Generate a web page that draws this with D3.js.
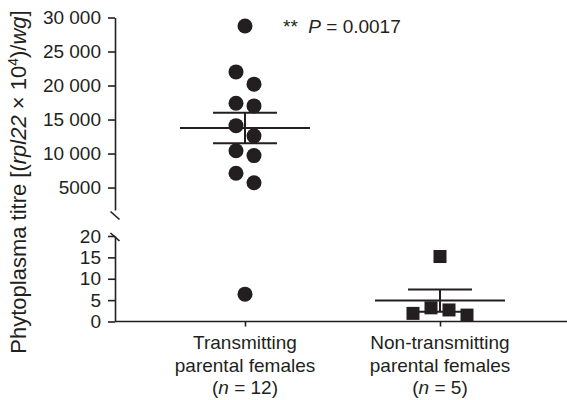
<!DOCTYPE html>
<html>
<head>
<meta charset="utf-8">
<script src="https://cdn.jsdelivr.net/npm/d3@7"></script>
<style>
  html, body { margin: 0; padding: 0; background: #fff; }
  svg { display: block; }
  text { font-family: "Liberation Sans", Arial, Helvetica, sans-serif; fill: #231f20; }
</style>
</head>
<body>
<svg id="chart" width="567" height="400"></svg>
<script>
// ---------------- data ----------------
const categories = ["Transmitting parental females", "Non-transmitting parental females"];
const categoryLines = [["Transmitting", "parental females"], ["Non-transmitting", "parental females"]];
const groupN = [12, 5];
const transmitting = [28750, 22000, 20200, 17400, 17000, 14100, 12600, 10400, 9700, 7100, 5700, 6.4];
const nonTransmitting = [15.2, 3.2, 2.7, 1.9, 1.5];
const groupMeans = [13750, 4.9];
const groupSems = [2250, 2.6];
const upperTicks = [5000, 10000, 15000, 20000, 25000, 30000];
const upperTickLabels = ["5000", "10 000", "15 000", "20 000", "25 000", "30 000"];
const lowerTicks = [0, 5, 10, 15, 20];
const lowerTickLabels = ["0", "5", "10", "15", "20"];
const sigStars = "**";
const pValueText = "P = 0.0017";

// ---------------- layout ----------------
const ink = "#231f20";
const W = 567, H = 400;
const axisX = 115;
const svg = d3.select("#chart");

const yUpper = d3.scaleLinear().domain([1700, 30000]).range([210, 17.5]);
const yLower = d3.scaleLinear().domain([0, 20]).range([321.5, 236]);
const yOf = v => v > 20 ? yUpper(v) : yLower(v);
const x = d3.scalePoint().domain(categories).range([245, 440]);

const upperAxis = d3.axisLeft(yUpper)
  .tickValues(upperTicks)
  .tickFormat((d, i) => upperTickLabels[i])
  .tickSize(7).tickSizeOuter(0).tickPadding(7);
const lowerAxis = d3.axisLeft(yLower)
  .tickValues(lowerTicks)
  .tickFormat((d, i) => lowerTickLabels[i])
  .tickSize(7).tickSizeOuter(0).tickPadding(7);

function styleAxis(g) {
  g.attr("font-size", null).attr("font-family", null);
  g.selectAll("path, line").attr("stroke", ink).attr("stroke-width", 1.6);
  g.selectAll("text").style("font-size", "19px").attr("fill", ink);
}
svg.append("g").attr("transform", `translate(${axisX},0)`).call(upperAxis).call(styleAxis);
svg.append("g").attr("transform", `translate(${axisX},0)`).call(lowerAxis).call(styleAxis);

// axis break marks
const brk = svg.append("g").attr("stroke", ink).attr("stroke-width", 1.6);
brk.append("line")
  .attr("x1", axisX - 4.5).attr("y1", yUpper(1700) + 1.5)
  .attr("x2", axisX + 4.5).attr("y2", yUpper(1700) + 9.5);
brk.append("line")
  .attr("x1", axisX - 4.5).attr("y1", yLower(20) - 3)
  .attr("x2", axisX + 4.5).attr("y2", yLower(20) + 5);

// x axis
svg.append("line")
  .attr("x1", axisX).attr("x2", W)
  .attr("y1", yLower(0)).attr("y2", yLower(0))
  .attr("stroke", ink).attr("stroke-width", 1.6);
const xAxis = d3.axisBottom(x).tickSize(5).tickFormat("");
const xg = svg.append("g").attr("transform", `translate(0,${yLower(0)})`).call(xAxis);
xg.select(".domain").remove();
xg.selectAll("line").attr("stroke", ink).attr("stroke-width", 1.6);

// category labels
categories.forEach((c, i) => {
  const t = svg.append("text")
    .attr("x", x(c)).attr("y", 349)
    .attr("text-anchor", "middle").style("font-size", "19px");
  categoryLines[i].forEach((line, j) => {
    t.append("tspan").attr("x", x(c)).attr("dy", j === 0 ? 0 : 22.5).text(line);
  });
  t.append("tspan").attr("x", x(c)).attr("dy", 22.5).text("(");
  t.append("tspan").attr("font-style", "italic").text("n");
  t.append("tspan").text(" = " + groupN[i] + ")");
});

// y axis title
const yl = svg.append("text")
  .attr("transform", "translate(26,182) rotate(-90)")
  .attr("text-anchor", "middle").style("font-size", "22px");
yl.append("tspan").text("Phytoplasma titre [(");
yl.append("tspan").attr("font-style", "italic").text("rpl22");
yl.append("tspan").text(" \u00d7 10");
yl.append("tspan").style("font-size", "14px").attr("dy", -8.5).text("4");
yl.append("tspan").attr("dy", 8.5).text(")/");
yl.append("tspan").attr("font-style", "italic").text("wg");
yl.append("tspan").text("]");

// significance annotation
const pt = svg.append("text").attr("x", 283).attr("y", 33).style("font-size", "19px");
pt.append("tspan").text(sigStars);
const pParts = pValueText.split(" ");
pt.append("tspan").attr("dx", 10.5).attr("font-style", "italic").text(pParts[0]);
pt.append("tspan").text(" " + pParts.slice(1).join(" "));

// ---------------- mean ± SEM ----------------
const eb = svg.append("g").attr("stroke", ink).attr("stroke-width", 2);
categories.forEach((c, i) => {
  const cx = x(c), m = groupMeans[i], s = groupSems[i];
  eb.append("line").attr("x1", cx - 65).attr("x2", cx + 65).attr("y1", yOf(m)).attr("y2", yOf(m));
  eb.append("line").attr("x1", cx).attr("x2", cx).attr("y1", yOf(m + s)).attr("y2", yOf(m - s));
  eb.append("line").attr("x1", cx - 32).attr("x2", cx + 32).attr("y1", yOf(m + s)).attr("y2", yOf(m + s));
  eb.append("line").attr("x1", cx - 32).attr("x2", cx + 32).attr("y1", yOf(m - s)).attr("y2", yOf(m - s));
});

// ---------------- dodge layout for points ----------------
function dodge(values, slot, clusterGap, collides) {
  const items = values.map(v => ({ v, y: yOf(v), dx: 0 })).sort((a, b) => a.y - b.y);
  const clusters = [];
  let cur = [];
  items.forEach(d => {
    if (cur.length && d.y - cur[cur.length - 1].y >= clusterGap) { clusters.push(cur); cur = []; }
    cur.push(d);
  });
  if (cur.length) clusters.push(cur);
  clusters.forEach(cl => {
    if (cl.length === 1) { cl[0].dx = 0; return; }
    const placed = [];
    cl.forEach(d => {
      for (let k = 1; k < 20; k++) {
        let ok = false;
        for (const sgn of [-1, 1]) {
          const dx = sgn * k * slot;
          if (!placed.some(p => collides(p.dx - dx, p.y - d.y))) { d.dx = dx; ok = true; break; }
        }
        if (ok) break;
      }
      placed.push(d);
    });
  });
  return items;
}

const circ = dodge(transmitting, 9, 16, (dx, dy) => Math.hypot(dx, dy) < 16);
svg.append("g").selectAll("circle").data(circ).join("circle")
  .attr("cx", d => x(categories[0]) + d.dx)
  .attr("cy", d => d.y)
  .attr("r", 7.5)
  .attr("fill", ink);

const sq = dodge(nonTransmitting, 9, 14, (dx, dy) => Math.abs(dx) < 14 && Math.abs(dy) < 14);
const sqSize = 13;
svg.append("g").selectAll("rect").data(sq).join("rect")
  .attr("x", d => x(categories[1]) + d.dx - sqSize / 2)
  .attr("y", d => d.y - sqSize / 2)
  .attr("width", sqSize).attr("height", sqSize)
  .attr("fill", ink);
</script>
</body>
</html>
